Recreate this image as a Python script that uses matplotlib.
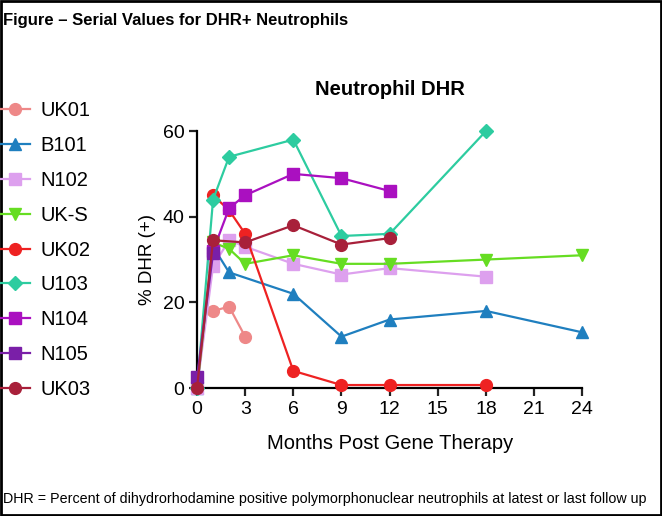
import matplotlib.pyplot as plt
from matplotlib.patches import Rectangle

plt.rcParams['font.family'] = ['Liberation Sans', 'DejaVu Sans']

# months post gene therapy and % DHR(+) per patient
uk01_x = [1, 2, 3]
uk01_y = [18, 19, 12]
b101_x = [0, 1, 2, 6, 9, 12, 18, 24]
b101_y = [0, 33, 27, 22, 12, 16, 18, 13]
n102_x = [0, 1, 2, 3, 6, 9, 12, 18]
n102_y = [0, 28.5, 34.5, 33, 29, 26.5, 28, 26]
uks_x = [0, 1, 2, 3, 6, 9, 12, 18, 24]
uks_y = [0, 34, 32.5, 29, 31, 29, 29, 30, 31]
uk02_x = [1, 2, 3, 6, 9, 12, 18]
uk02_y = [45, 41.5, 36, 4, 0.7, 0.7, 0.7]
u103_x = [0, 1, 2, 6, 9, 12, 18]
u103_y = [0, 44, 54, 58, 35.5, 36, 60]
n104_x = [1, 2, 3, 6, 9, 12]
n104_y = [32, 42, 45, 50, 49, 46]
n105_x = [0, 1]
n105_y = [2.5, 31.5]
uk03_x = [0, 1, 3, 6, 9, 12]
uk03_y = [0, 34.5, 34, 38, 33.5, 35]

series = [
    ("UK01", uk01_x, uk01_y, '#ee8888', 'o'),
    ("B101", b101_x, b101_y, '#1f7fbf', '^'),
    ("N102", n102_x, n102_y, '#dda0ee', 's'),
    ("UK-S", uks_x, uks_y, '#66dd22', 'v'),
    ("UK02", uk02_x, uk02_y, '#ee2222', 'o'),
    ("U103", u103_x, u103_y, '#2dcca0', 'D'),
    ("N104", n104_x, n104_y, '#aa10c0', 's'),
    ("N105", n105_x, n105_y, '#7a1fa8', 's'),
    ("UK03", uk03_x, uk03_y, '#a8203a', 'o'),
]

fig = plt.figure(figsize=(6.62, 5.16), dpi=100)
ax = fig.add_axes([0.2976, 0.248, 0.582, 0.498])

handles = []
for nombre, xs, ys, color, marker in series:
    ms = 7.5 if marker == 'D' else 8.5
    h, = ax.plot(xs, ys, color=color, marker=marker, markersize=ms, linewidth=1.6,
                 label=nombre, clip_on=False, zorder=3)
    handles.append(h)

ax.set_xlim(0, 24)
ax.set_ylim(0, 60)
ax.set_xticks(range(0, 25, 3))
ax.set_yticks([0, 20, 40, 60])
ax.spines['top'].set_visible(False)
ax.spines['right'].set_visible(False)
ax.spines['left'].set_linewidth(1.6)
ax.spines['bottom'].set_linewidth(1.6)
ax.tick_params(labelsize=14, width=1.6, length=6, color='#222222', pad=3)
ax.set_xlabel("Months Post Gene Therapy", fontsize=14.5, labelpad=12)
ax.set_ylabel("% DHR (+)", fontsize=13.5, labelpad=5)
ax.set_title("Neutrophil DHR", fontsize=14.5, fontweight='bold', pad=26)

fig.legend(handles=handles, loc='upper left', bbox_to_anchor=(-0.012, 0.82),
           frameon=False, fontsize=14.5, labelspacing=0.79, handlelength=1.5,
           handletextpad=0.5, borderaxespad=0)

fig.text(0.004, 0.975, "Figure \u2013 Serial Values for DHR+ Neutrophils",
         fontsize=12, fontweight='bold', va='top', ha='left')
fig.text(0.004, 0.02,
         "DHR = Percent of dihydrorhodamine positive polymorphonuclear neutrophils at latest or last follow up",
         fontsize=10.3, va='bottom', ha='left')

fig.patches.append(Rectangle((0.002, 0.002), 0.996, 0.996, transform=fig.transFigure,
                             fill=False, edgecolor='black', linewidth=2))

fig.savefig("out.png")
